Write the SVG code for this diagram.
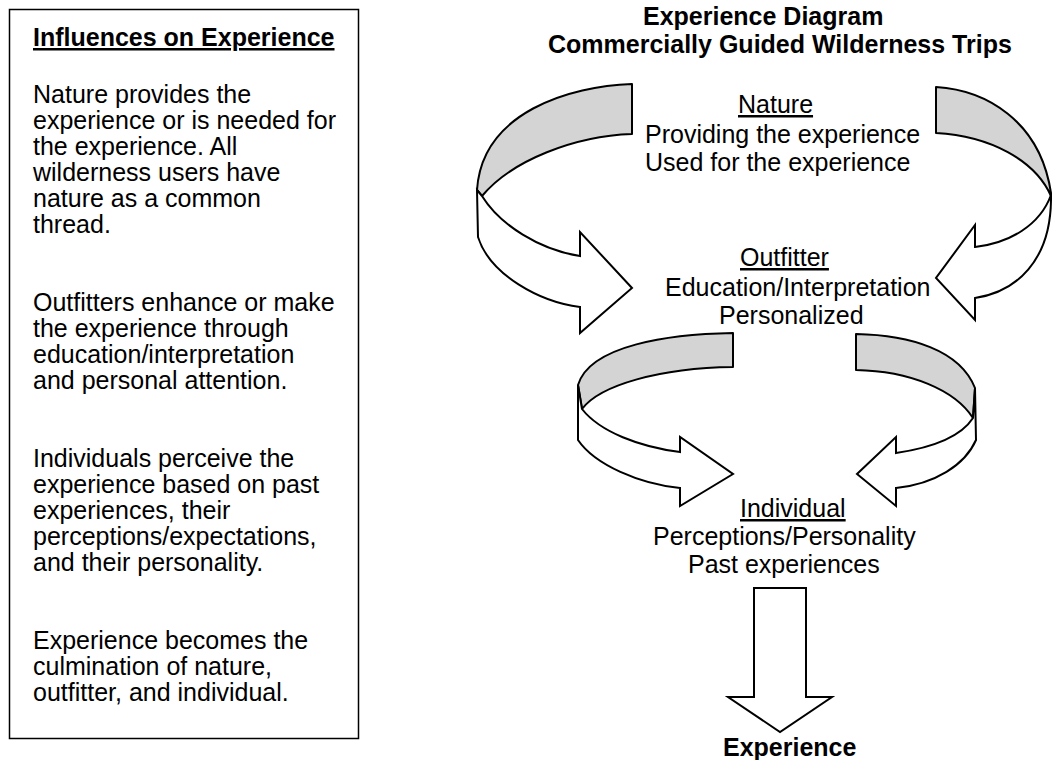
<svg xmlns="http://www.w3.org/2000/svg" width="1052" height="760" viewBox="0 0 1052 760">
<style>
text{font-family:"Liberation Sans",Arial,sans-serif;font-size:25px;fill:#000}
.b{font-weight:bold}
.u{text-decoration:underline}
.back{fill:#d4d4d4;stroke:#000;stroke-width:2;stroke-linejoin:round}
.front{fill:#fff;stroke:#000;stroke-width:2;stroke-linejoin:miter}
</style>
<rect width="1052" height="760" fill="#fff"/>
<g id="influences-box">
<rect x="9.5" y="9.5" width="349" height="729" fill="#fff" stroke="#000" stroke-width="1.5"/>
<text x="33" y="46" class="b u">Influences on Experience</text>
<text x="33" y="103">Nature provides the</text>
<text x="33" y="129">experience or is needed for</text>
<text x="33" y="155">the experience. All</text>
<text x="33" y="181">wilderness users have</text>
<text x="33" y="207">nature as a common</text>
<text x="33" y="233">thread.</text>
<text x="33" y="311">Outfitters enhance or make</text>
<text x="33" y="337">the experience through</text>
<text x="33" y="363">education/interpretation</text>
<text x="33" y="389">and personal attention.</text>
<text x="33" y="467">Individuals perceive the</text>
<text x="33" y="493">experience based on past</text>
<text x="33" y="519">experiences, their</text>
<text x="33" y="545">perceptions/expectations,</text>
<text x="33" y="571">and their personality.</text>
<text x="33" y="649">Experience becomes the</text>
<text x="33" y="675">culmination of nature,</text>
<text x="33" y="701">outfitter, and individual.</text>
</g>
<g id="title">
<text x="643" y="25" class="b">Experience Diagram</text>
<text x="548" y="53" class="b">Commercially Guided Wilderness Trips</text>
</g>
<g id="connectors">
<g id="arrow-nature-left">
<path class="back" d="M632,84 C570,86 482,112 477,190 L482,196 C512,160 575,136 632,134 Z"/>
<path class="front" d="M477,190 L482,196 C500,225 540,250 580,256 L580,232 L632,288 L580,333 L580,307 C540,302 490,275 478,237 Z"/>
</g>
<g id="arrow-nature-right">
<path class="back" d="M936,87 C985,90 1040,120 1051,193 L1051,196 C1035,160 990,136 936,133 Z"/>
<path class="front" d="M1051,195 C1040,225 1010,243 975,247 L975,225 L936,278 L975,320 L975,298 C1015,292 1052,262 1051,195 Z"/>
</g>
<g id="arrow-outfitter-left">
<path class="back" d="M733,333 C670,334 590,345 578,385 L582,409 C600,385 660,368 733,367 Z"/>
<path class="front" d="M578,385 L582,409 C600,432 640,447 680,452 L680,437 L733,474 L680,506 L680,488 C640,484 595,465 578,440 Z"/>
</g>
<g id="arrow-outfitter-right">
<path class="back" d="M856,334 C910,335 960,350 975,388 L973,418 C955,390 910,371 856,370 Z"/>
<path class="front" d="M975,388 L976,440 C965,465 935,484 896,488 L896,506 L857,474 L896,437 L896,453 C930,448 960,438 973,418 Z"/>
</g>
<path id="arrow-experience" class="front" d="M754,588 L806,588 L806,697 L832,697 L780,732 L728,697 L754,697 Z"/>
</g>
<g id="node-nature">
<text x="738" y="113" class="u">Nature</text>
<text x="645" y="143">Providing the experience</text>
<text x="645" y="171">Used for the experience</text>
</g>
<g id="node-outfitter">
<text x="740" y="266" class="u">Outfitter</text>
<text x="665" y="296">Education/Interpretation</text>
<text x="719" y="324">Personalized</text>
</g>
<g id="node-individual">
<text x="740" y="517" class="u">Individual</text>
<text x="653" y="545">Perceptions/Personality</text>
<text x="688" y="573">Past experiences</text>
</g>
<g id="node-experience">
<text x="723" y="756" class="b">Experience</text>
</g>
</svg>
